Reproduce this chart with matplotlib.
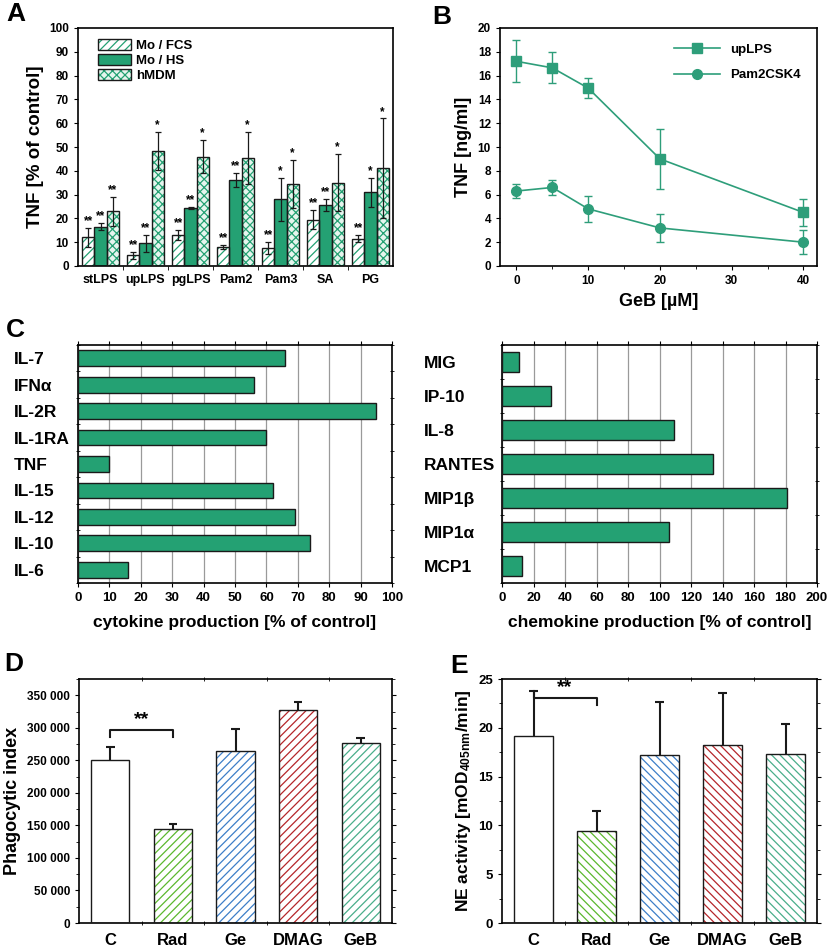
import numpy as np
import matplotlib
matplotlib.use('Agg')
from matplotlib import pyplot as plt
from matplotlib.patches import Patch
from matplotlib.lines import Line2D
from matplotlib.ticker import FuncFormatter, MultipleLocator

plt.rcParams['font.family'] = ['Liberation Sans', 'DejaVu Sans']
plt.rcParams['font.weight'] = 'bold'
plt.rcParams['axes.labelweight'] = 'bold'
plt.rcParams['mathtext.fontset'] = 'custom'
plt.rcParams['mathtext.rm'] = 'Liberation Sans:bold'
plt.rcParams['mathtext.bf'] = 'Liberation Sans:bold'
plt.rcParams['mathtext.it'] = 'Liberation Sans:bold'
plt.rcParams['mathtext.default'] = 'bf'
plt.rcParams['hatch.linewidth'] = 0.9
plt.rcParams['axes.linewidth'] = 1.2

# ---- panel A data
groups_a = ['stLPS', 'upLPS', 'pgLPS', 'Pam2', 'Pam3', 'SA', 'PG']
fcs = [12, 4.5, 13, 8, 7.5, 19.5, 11.5]
fcs_err = [4, 1.5, 2, 1, 2.5, 4, 1.5]
hs = [16.5, 9.5, 24.5, 36, 28, 25.5, 31]
hs_err = [1.5, 3.5, 0.5, 3, 9, 2.5, 6]
mdm = [23, 48.5, 46, 45.5, 34.5, 35, 41]
mdm_err = [6, 8, 7, 11, 10, 12, 21]
stars_fcs = ['**', '**', '**', '**', '**', '**', '**']
stars_hs = ['**', '**', '**', '**', '*', '**', '*']
stars_mdm = ['**', '*', '*', '*', '*', '*', '*']
series_a = ['Mo / FCS', 'Mo / HS', 'hMDM']

# ---- panel B data
geb = [0, 5, 10, 20, 40]
uplps = [17.2, 16.65, 14.95, 9.0, 4.5]
uplps_err = [1.75, 1.3, 0.85, 2.5, 1.1]
pam2csk4 = [6.3, 6.6, 4.8, 3.2, 2.0]
pam2csk4_err = [0.6, 0.6, 1.1, 1.2, 1.0]

# ---- panel C data
cytokines = ['IL-7', 'IFNα', 'IL-2R', 'IL-1RA', 'TNF', 'IL-15', 'IL-12', 'IL-10', 'IL-6']
cyto_vals = [66, 56, 95, 60, 10, 62, 69, 74, 16]
chemokines = ['MIG', 'IP-10', 'IL-8', 'RANTES', 'MIP1β', 'MIP1α', 'MCP1']
chemo_vals = [11, 31, 109, 134, 181, 106, 13]

# ---- panels D / E data
treatments = ['C', 'Rad', 'Ge', 'DMAG', 'GeB']
phago = [251000, 144000, 264000, 328000, 276000]
phago_err = [20000, 8000, 34000, 11000, 9000]
ne_act = [19.2, 9.4, 17.2, 18.2, 17.3]
ne_err = [4.6, 2.1, 5.4, 5.4, 3.1]

green = '#24a173'
line_green = '#2e9e7a'
treat_colors = ['white', '#5cb82e', '#3d7ec8', '#b5262a', '#4aae8a']
edge = '#1a1a1a'

W, H = 830, 950
fig = plt.figure(figsize=(W / 100, H / 100), dpi=100)


def box(l, r, t, b):
    return [l / W, 1 - b / H, (r - l) / W, (b - t) / H]


def hatched_bar(ax, x, h, w, face, hcol, hatch):
    ax.bar(x, h, w, color=face, edgecolor=hcol, hatch=hatch, linewidth=0, zorder=2)
    ax.bar(x, h, w, fill=False, edgecolor=edge, linewidth=1.0, zorder=3)


# ================= A
axA = fig.add_axes(box(78, 393, 28, 266))
xa = np.arange(len(groups_a))
bw = 0.27
styles = [('white', green, '////'), (green, green, None), ('#e6f5ee', green, 'xxxx')]
vals = [fcs, hs, mdm]
errs = [fcs_err, hs_err, mdm_err]
stars = [stars_fcs, stars_hs, stars_mdm]
for k in range(3):
    xs = xa + (k - 1) * bw
    face, hcol, hatch = styles[k]
    hatched_bar(axA, xs, vals[k], bw, face, hcol, hatch)
    axA.errorbar(xs, vals[k], yerr=errs[k], fmt='none', ecolor=edge, elinewidth=0.9,
                 capsize=2.5, capthick=0.9, zorder=4)
    for xi, v, e, s in zip(xs, vals[k], errs[k], stars[k]):
        axA.text(xi, v + e + 0.3, s, ha='center', va='bottom', fontsize=8.5, fontweight='bold')
axA.set_xlim(-0.5, len(groups_a) - 0.5)
axA.set_ylim(0, 100)
axA.set_yticks(np.arange(0, 101, 10))
axA.set_xticks(xa)
axA.set_xticklabels(groups_a, fontsize=9)
axA.set_xticks(xa[:-1] + 0.5, minor=True)
axA.tick_params(axis='x', which='major', length=0, pad=6)
axA.tick_params(axis='x', which='minor', length=3)
axA.tick_params(axis='y', labelsize=8.5, length=3)
axA.set_ylabel('TNF [% of control]', fontsize=13.5)
leg_handles = []
for face, hcol, hatch in styles:
    p1 = Patch(facecolor=face, edgecolor=hcol, hatch=hatch, linewidth=0)
    p2 = Patch(fill=False, edgecolor=edge, linewidth=1.0)
    leg_handles.append((p1, p2))
axA.legend(leg_handles, series_a, loc='upper left', frameon=False, fontsize=9.5,
           handlelength=2.5, handleheight=0.9, labelspacing=0.15, borderpad=0.3,
           handletextpad=0.4, bbox_to_anchor=(0.03, 1.0))

# ================= B
axB = fig.add_axes(box(500, 817, 28, 266))
axB.errorbar(geb, uplps, yerr=uplps_err, color=line_green, marker='s', markersize=7,
             linewidth=1.2, capsize=3, elinewidth=1.0, label='upLPS')
axB.errorbar(geb, pam2csk4, yerr=pam2csk4_err, color=line_green, marker='o', markersize=7,
             linewidth=1.2, capsize=3, elinewidth=1.0, label='Pam2CSK4')
axB.set_xlim(-2.3, 41.9)
axB.set_ylim(0, 20)
axB.set_yticks(np.arange(0, 21, 2))
axB.set_xticks([0, 10, 20, 30, 40])
axB.xaxis.set_minor_locator(MultipleLocator(5))
axB.tick_params(labelsize=8.5, length=3)
axB.tick_params(which='minor', length=2)
axB.set_xlabel('GeB [µM]', fontsize=13)
axB.set_ylabel('TNF [ng/ml]', fontsize=13)
lhB = [Line2D([], [], color=line_green, marker='s', markersize=7, linewidth=1.2),
       Line2D([], [], color=line_green, marker='o', markersize=7, linewidth=1.2)]
axB.legend(lhB, ['upLPS', 'Pam2CSK4'], loc='upper right', frameon=False, fontsize=9.5,
           handlelength=3.5, labelspacing=1.0, borderaxespad=0.8)


# ================= C
def cbar(ax, cats, vals_c, xmax, step, xlabel, pad):
    y = np.arange(len(cats))
    ax.set_axisbelow(True)
    ax.grid(axis='x', color='#9a9a9a', linewidth=0.9)
    ax.barh(y, vals_c, 0.6, color=green, edgecolor=edge, linewidth=1.0, zorder=3)
    ax.set_ylim(len(cats) - 0.5, -0.5)
    ax.set_xlim(0, xmax)
    ax.set_xticks(np.arange(0, xmax + 1, step))
    ax.set_yticks(y)
    ax.set_yticklabels(cats, fontsize=12.5, ha='left')
    ax.set_yticks(np.arange(len(cats) + 1) - 0.5, minor=True)
    ax.tick_params(axis='y', which='major', length=0, pad=pad)
    ax.tick_params(axis='y', which='minor', length=3, direction='inout', right=True)
    ax.tick_params(axis='x', labelsize=9.5, length=3, top=True)
    ax.set_xlabel(xlabel, fontsize=12.5, labelpad=8)


axC1 = fig.add_axes(box(78, 392, 345, 583))
cbar(axC1, cytokines, cyto_vals, 100, 10, 'cytokine production [% of control]', 46)
axC2 = fig.add_axes(box(502, 817, 345, 583))
cbar(axC2, chemokines, chemo_vals, 200, 20, 'chemokine production [% of control]', 56)


# ================= D / E
def treat_panel(ax, vals_t, err_t, hatch):
    x = np.arange(len(treatments))
    for i in range(len(treatments)):
        hatched_bar(ax, x[i], vals_t[i], 0.61, 'white', treat_colors[i],
                    None if i == 0 else hatch)
    tops = np.array(vals_t) + np.array(err_t)
    ax.vlines(x, vals_t, tops, color=edge, linewidth=1.5, zorder=1)
    ax.hlines(tops, x - 0.07, x + 0.07, color=edge, linewidth=1.5, zorder=4)
    ax.set_xlim(-0.5, len(treatments) - 0.5)
    ax.set_xticks(x)
    ax.set_xticklabels(treatments, fontsize=12)
    ax.set_xticks(x[:-1] + 0.5, minor=True)
    ax.tick_params(axis='x', which='major', length=0, pad=7)
    ax.tick_params(axis='x', which='minor', length=3, direction='inout', top=True)
    ax.tick_params(axis='y', which='both', right=True)
    ax.tick_params(axis='y', which='minor', length=2)


axD = fig.add_axes(box(79, 392, 679, 923))
treat_panel(axD, phago, phago_err, '////')
axD.set_ylim(0, 375000)
axD.set_yticks(np.arange(0, 350001, 50000))
axD.yaxis.set_minor_locator(MultipleLocator(25000))
axD.yaxis.set_major_formatter(FuncFormatter(lambda v, p: f'{int(v):,}'.replace(',', ' ')))
axD.tick_params(axis='y', labelsize=8.5, length=3)
axD.set_ylabel('Phagocytic index', fontsize=13)
axD.plot([0, 0, 1, 1], [286000, 297000, 297000, 286000], color=edge, linewidth=1.5)
axD.text(0.5, 300000, '**', ha='center', va='bottom', fontsize=14)

axE = fig.add_axes(box(502, 817, 679, 923))
treat_panel(axE, ne_act, ne_err, '\\\\\\\\')
axE.set_ylim(0, 25)
axE.set_yticks(np.arange(0, 26, 5))
axE.yaxis.set_minor_locator(MultipleLocator(2.5))
axE.tick_params(axis='y', labelsize=9.5, length=3)
axE.set_ylabel(r'NE activity [mOD$_{405nm}$/min]', fontsize=12.5)
axE.plot([0, 0, 1, 1], [23.8, 23.05, 23.05, 22.3], color=edge, linewidth=1.5)
axE.text(0.5, 23.2, '**', ha='center', va='bottom', fontsize=14)

# panel letters
for lab, px, py in [('A', 6, 2), ('B', 432, 5), ('C', 6, 318), ('D', 4, 652), ('E', 450, 654)]:
    fig.text(px / W, 1 - py / H, lab, fontsize=19, fontweight='bold', va='top', ha='left')

fig.savefig('out.png', dpi=100)
